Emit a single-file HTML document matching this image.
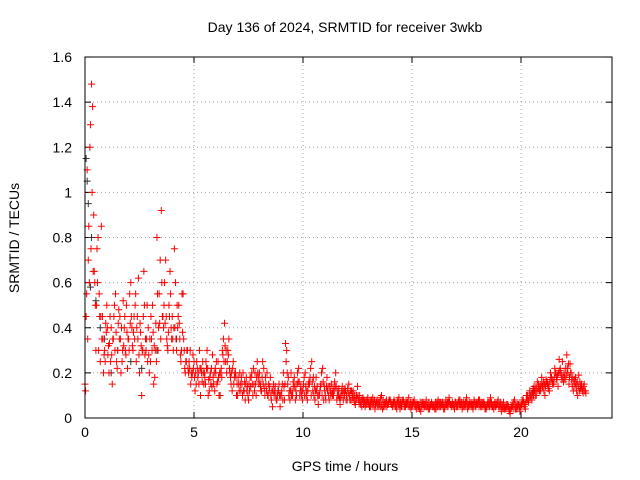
<!DOCTYPE html>
<html><head><meta charset="utf-8"><style>
body{margin:0;background:#fff;}
svg{display:block;font-family:"Liberation Sans",sans-serif;}
</style></head><body>
<svg id="chart" width="640" height="480" viewBox="0 0 640 480">
<rect width="640" height="480" fill="#fff"/>
<text x="345" y="32" font-size="14" text-anchor="middle">Day 136 of 2024, SRMTID for receiver 3wkb</text>
<g id="grid"></g>
<g id="ticks"></g>
<g id="black"></g>
<g id="red"></g>
<rect x="85" y="57" width="527" height="361" fill="none" stroke="#000" stroke-width="1"/>
<text transform="translate(19,238) rotate(-90)" font-size="14" text-anchor="middle">SRMTID / TECUs</text>
<text x="345" y="471" font-size="14" text-anchor="middle">GPS time / hours</text>
</svg>
<script>
const xTicks=[0,5,10,15,20];
const yTicks=[0,0.2,0.4,0.6,0.8,1,1.2,1.4,1.6];
const yTickLabels=["0","0.2","0.4","0.6","0.8","1","1.2","1.4","1.6"];
const redA=[0.15,1.1,0.6,1.48,0.9,0.3,0.8,0.25,0.45,0.3,
0.5,0.2,0.4,0.35,0.55,0.3,0.45,0.25,0.4,0.5,
0.35,0.6,0.3,0.5,0.45,0.2,0.1,0.65,0.3,0.4,
0.25,0.5,0.18,0.8,0.55,0.92,0.4,0.7,0.3,0.65,
0.45,0.75,0.3,0.5,0.25,0.55,0.2,0.3,0.22,0.18,
0.25,0.15,0.2,0.1,0.25,0.18,0.3,0.12,0.22,0.15,
0.2,0.25,0.1,0.3,0.42,0.2,0.35,0.15,0.25,0.2,
0.1,0.2,0.15,0.12,0.18,0.08,0.14,0.1,0.2,0.25,
0.2,0.12,0.22,0.15,0.1,0.18,0.05,0.12,0.08,0.15,
0.1,0.2,0.33,0.15,0.08,0.12,0.18,0.1,0.22,0.14,
0.12,0.2,0.08,0.15,0.25,0.1,0.18,0.06,0.14,0.22,
0.12,0.18,0.08,0.15,0.1,0.2,0.12,0.06,0.14,0.1,
0.1,0.15,0.08,0.12,0.06,0.14,0.1,0.05,0.08,0.06,
0.07,0.05,0.09,0.04,0.08,0.06,0.1,0.05,0.07,0.06,
0.08,0.05,0.07,0.04,0.09,0.06,0.08,0.05,0.07,0.06,
0.05,0.08,0.04,0.06,0.03,0.07,0.05,0.06,0.04,0.07,
0.06,0.04,0.08,0.05,0.07,0.04,0.06,0.09,0.05,0.06,
0.07,0.05,0.08,0.04,0.06,0.09,0.05,0.07,0.04,0.06,
0.06,0.08,0.05,0.07,0.04,0.06,0.09,0.05,0.07,0.06,
0.05,0.03,0.07,0.04,0.06,0.02,0.05,0.08,0.04,0.06,
0.05,0.08,0.04,0.1,0.12,0.08,0.14,0.1,0.15,0.12,
0.14,0.1,0.16,0.12,0.18,0.15,0.2,0.14,0.22,0.25,
0.18,0.28,0.15,0.2,0.12,0.18,0.1,0.16,0.13,0.15];
const redB=[0.45,0.7,1.3,1.38,0.6,0.75,0.55,0.85,0.2,0.42,
0.28,0.45,0.15,0.5,0.25,0.48,0.2,0.52,0.3,0.22,
0.55,0.4,0.45,0.25,0.62,0.38,0.3,0.28,0.5,0.2,
0.35,0.15,0.42,0.3,0.7,0.45,0.6,0.35,0.5,0.4,
0.3,0.6,0.4,0.35,0.55,0.3,0.25,0.2,0.15,0.28,
0.12,0.22,0.3,0.2,0.15,0.25,0.1,0.2,0.28,0.12,
0.15,0.1,0.22,0.35,0.25,0.3,0.2,0.12,0.18,0.1,
0.15,0.12,0.2,0.08,0.14,0.12,0.2,0.15,0.1,0.18,
0.14,0.25,0.1,0.2,0.12,0.08,0.15,0.1,0.12,0.05,
0.15,0.08,0.3,0.1,0.2,0.16,0.08,0.2,0.1,0.12,
0.18,0.1,0.15,0.22,0.12,0.08,0.14,0.1,0.2,0.08,
0.08,0.14,0.12,0.1,0.16,0.08,0.13,0.1,0.08,0.12,
0.13,0.08,0.11,0.07,0.1,0.08,0.06,0.09,0.05,0.07,
0.05,0.08,0.06,0.07,0.05,0.09,0.04,0.07,0.05,0.08,
0.06,0.07,0.05,0.08,0.04,0.07,0.05,0.06,0.09,0.04,
0.07,0.05,0.06,0.04,0.07,0.05,0.08,0.04,0.06,0.05,
0.04,0.07,0.05,0.06,0.04,0.08,0.05,0.06,0.07,0.04,
0.05,0.08,0.06,0.05,0.07,0.04,0.06,0.05,0.08,0.07,
0.08,0.05,0.07,0.04,0.06,0.05,0.07,0.04,0.06,0.08,
0.07,0.05,0.04,0.06,0.03,0.05,0.07,0.04,0.05,0.03,
0.08,0.05,0.1,0.07,0.09,0.13,0.1,0.16,0.12,0.18,
0.12,0.17,0.13,0.2,0.15,0.22,0.17,0.26,0.19,0.16,
0.22,0.2,0.24,0.14,0.17,0.12,0.19,0.14,0.11,0.12];
const redC=[0.12,0.35,1.2,1.0,0.65,0.5,0.3,0.45,0.35,0.25,
0.4,0.33,0.28,0.45,0.38,0.42,0.35,0.3,0.45,0.38,
0.3,0.45,0.38,0.55,0.35,0.42,0.3,0.5,0.35,0.28,
0.45,0.38,0.3,0.55,0.42,0.6,0.5,0.45,0.38,0.55,
0.35,0.4,0.5,0.42,0.3,0.35,0.25,0.22,0.3,0.2,
0.18,0.25,0.15,0.22,0.2,0.15,0.22,0.18,0.14,0.2,
0.25,0.18,0.2,0.28,0.32,0.25,0.22,0.2,0.15,0.18,
0.18,0.15,0.1,0.16,0.12,0.15,0.18,0.22,0.15,0.2,
0.16,0.18,0.13,0.12,0.15,0.1,0.12,0.14,0.1,0.1,
0.12,0.14,0.25,0.18,0.12,0.1,0.14,0.15,0.16,0.1,
0.15,0.14,0.12,0.18,0.16,0.14,0.12,0.1,0.15,0.16,
0.1,0.12,0.14,0.11,0.12,0.14,0.1,0.09,0.11,0.13,
0.08,0.1,0.12,0.09,0.08,0.1,0.07,0.08,0.07,0.08,
0.06,0.07,0.07,0.06,0.06,0.07,0.06,0.06,0.08,0.07,
0.07,0.06,0.06,0.07,0.06,0.05,0.07,0.07,0.06,0.07,
0.06,0.06,0.06,0.05,0.05,0.06,0.06,0.05,0.05,0.06,
0.05,0.06,0.06,0.07,0.06,0.06,0.07,0.07,0.06,0.05,
0.06,0.07,0.06,0.06,0.05,0.07,0.07,0.06,0.06,0.05,
0.07,0.06,0.06,0.06,0.05,0.07,0.06,0.06,0.05,0.07,
0.06,0.06,0.05,0.05,0.05,0.04,0.06,0.06,0.06,0.05,
0.06,0.07,0.07,0.08,0.1,0.11,0.12,0.13,0.13,0.15,
0.16,0.14,0.15,0.16,0.17,0.18,0.18,0.2,0.2,0.18,
0.17,0.22,0.18,0.17,0.16,0.15,0.14,0.13,0.12,0.12];
const redD=[0.55,0.85,0.75,0.65,0.5,0.6,0.45,0.35,0.28,0.38,
0.32,0.25,0.35,0.3,0.22,0.35,0.4,0.32,0.28,0.35,
0.42,0.32,0.35,0.4,0.28,0.32,0.45,0.35,0.25,0.35,
0.3,0.32,0.25,0.4,0.35,0.45,0.42,0.32,0.45,0.35,
0.4,0.35,0.45,0.28,0.38,0.22,0.3,0.25,0.2,0.22,
0.2,0.18,0.22,0.16,0.2,0.22,0.17,0.15,0.18,0.22,
0.16,0.2,0.18,0.25,0.3,0.28,0.18,0.22,0.2,0.15,
0.12,0.18,0.12,0.15,0.1,0.18,0.15,0.12,0.18,0.15,
0.12,0.15,0.18,0.1,0.14,0.12,0.1,0.08,0.12,0.1,
0.08,0.15,0.2,0.12,0.1,0.14,0.12,0.16,0.12,0.08,
0.1,0.12,0.16,0.1,0.18,0.12,0.1,0.12,0.1,0.14,
0.14,0.1,0.1,0.13,0.14,0.1,0.09,0.12,0.12,0.08,
0.11,0.12,0.09,0.1,0.09,0.07,0.08,0.06,0.07,0.09,
0.08,0.06,0.08,0.07,0.07,0.05,0.08,0.06,0.06,0.08,
0.06,0.08,0.06,0.06,0.07,0.08,0.06,0.07,0.05,0.06,
0.07,0.06,0.05,0.07,0.06,0.06,0.05,0.07,0.06,0.05,
0.07,0.05,0.07,0.06,0.05,0.06,0.07,0.06,0.06,0.07,
0.06,0.06,0.07,0.07,0.06,0.06,0.06,0.06,0.07,0.06,
0.05,0.07,0.06,0.05,0.07,0.07,0.05,0.06,0.06,0.05,
0.05,0.04,0.05,0.05,0.04,0.05,0.04,0.05,0.06,0.05,
0.07,0.06,0.08,0.09,0.11,0.1,0.13,0.12,0.14,0.14,
0.15,0.16,0.14,0.18,0.16,0.2,0.19,0.21,0.17,0.2,
0.19,0.24,0.2,0.18,0.14,0.16,0.12,0.15,0.14,0.11];
const blackT=[0.05,0.1,0.15,0.3,0.25,0.5,0.7,0.9,1.2,1.5,2.1,2.6,3.3,4.2,20.6,21.2];
const blackV=[1.15,1.05,0.95,0.8,0.58,0.52,0.4,0.35,0.2,0.3,0.25,0.22,0.3,0.35,0.12,0.15];
const X0=85,PX=21.8,Y0=418,PY=225.6;
const xs=v=>X0+v*PX, ys=v=>Y0-v*PY;
const NS="http://www.w3.org/2000/svg";
const grid=document.getElementById('grid'),ticks=document.getElementById('ticks');
function mk(tag,attrs,parent){const e=document.createElementNS(NS,tag);for(const k in attrs)e.setAttribute(k,attrs[k]);parent.appendChild(e);return e;}
xTicks.forEach(t=>{const x=xs(t);
 if(t>0){const g=mk('line',{x1:x,x2:x,y1:57,y2:418,stroke:'#a0a0a0','stroke-dasharray':'1,3'},grid);
 
 }
 mk('line',{x1:x,x2:x,y1:418,y2:412,stroke:'#000'},ticks);mk('line',{x1:x,x2:x,y1:57,y2:63,stroke:'#000'},ticks);
 const l=mk('text',{x:x,y:437,'font-size':'14','text-anchor':'middle'},ticks);l.textContent=t;
 
 });
yTicks.forEach((t,i)=>{const y=ys(t);
 if(t>0&&t<1.6){const g=mk('line',{x1:85,x2:612,y1:y,y2:y,stroke:'#a0a0a0','stroke-dasharray':'1,3'},grid);
 
 }
 mk('line',{x1:85,x2:91,y1:y,y2:y,stroke:'#000'},ticks);mk('line',{x1:612,x2:606,y1:y,y2:y,stroke:'#000'},ticks);
 const l=mk('text',{x:72,y:y+5,'font-size':'14','text-anchor':'end'},ticks);l.textContent=yTickLabels[i];
 
 });
function plus(x,y,color,parent){const p=mk('path',{d:`M${x-3.5},${y}h7M${x},${y-3.5}v7`,stroke:color,'stroke-width':'1',fill:'none'},parent);return p;}
const bl=document.getElementById('black'),rd=document.getElementById('red');
blackT.forEach((t,i)=>{const p=plus(xs(t),ys(blackV[i]),'#333',bl);
 
 });
[[redA,0],[redB,0.05],[redC,0.025],[redD,0.075]].forEach(([arr,off])=>{
 arr.forEach((v,i)=>{const t=i*0.1+off;const p=plus(xs(t),ys(v),'#f00',rd);
 
 });
});
</script>
</body></html>
